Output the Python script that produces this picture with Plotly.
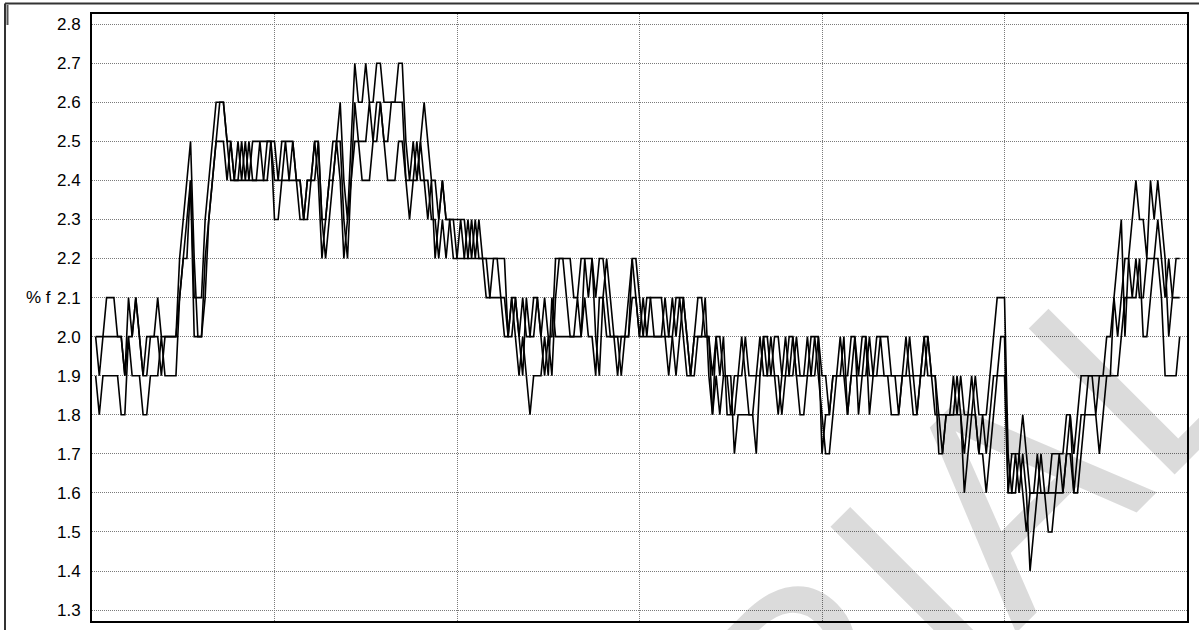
import plotly.graph_objects as go

# Three channels sampled at 298 steps, values in % f
series_a = [
    2.0,1.9,2.0,2.1,2.1,2.1,2.0,2.0,1.9,2.1, 2.0,2.1,2.0,1.9,2.0,2.0,2.0,2.1,2.0,2.0,
    2.0,2.0,2.0,2.2,2.3,2.4,2.5,2.2,2.0,2.0, 2.1,2.3,2.4,2.5,2.6,2.6,2.5,2.5,2.4,2.5,
    2.4,2.5,2.4,2.5,2.5,2.5,2.5,2.5,2.5,2.5,
    2.4,2.5,2.5,2.5,2.5,2.4,2.4,2.3,2.4,2.4, 2.5,2.5,2.3,2.3,2.4,2.5,2.5,2.6,2.4,2.3,
    2.5,2.7,2.6,2.6,2.7,2.6,2.6,2.7,2.7,2.6, 2.6,2.6,2.6,2.7,2.7,2.5,2.4,2.5,2.4,2.5,
    2.6,2.5,2.4,2.4,2.3,2.4,2.3,2.3,2.2,2.2,
    2.3,2.2,2.2,2.3,2.2,2.3,2.2,2.2,2.2,2.2, 2.2,2.2,2.2,2.0,2.1,2.1,2.0,2.1,2.0,2.0,
    2.1,2.1,2.0,2.1,2.0,2.0,2.2,2.2,2.2,2.2, 2.2,2.1,2.1,2.2,2.2,2.2,2.2,2.1,2.2,2.2,
    2.1,2.0,2.0,2.0,2.0,2.0,2.1,2.2,2.1,2.0,
    2.1,2.0,2.1,2.1,2.1,2.1,2.0,1.9,2.0,2.1, 2.1,2.1,2.0,1.9,2.0,2.1,2.1,2.0,2.0,1.9,
    2.0,2.0,1.9,1.9,1.8,1.9,1.9,1.9,2.0,1.9, 1.9,1.9,1.9,2.0,2.0,1.9,2.0,2.0,1.9,1.9,
    2.0,2.0,1.9,1.9,1.9,1.9,2.0,2.0,2.0,1.9,
    1.9,1.8,1.9,1.9,2.0,1.9,1.9,2.0,2.0,1.9, 2.0,2.0,1.9,1.9,2.0,2.0,2.0,2.0,1.9,1.9,
    1.9,1.9,1.9,2.0,1.9,1.9,1.9,2.0,2.0,1.9, 1.9,1.8,1.8,1.8,1.8,1.9,1.8,1.9,1.8,1.8,
    1.8,1.9,1.8,1.8,1.8,1.9,2.0,2.1,2.1,2.1,
    1.7,1.6,1.6,1.7,1.8,1.7,1.6,1.6,1.6,1.7, 1.6,1.6,1.7,1.7,1.7,1.7,1.8,1.8,1.7,1.8,
    1.9,1.9,1.9,1.9,1.9,1.9,1.9,2.0,2.0,2.1, 2.2,2.3,2.0,2.2,2.3,2.4,2.3,2.3,2.2,2.4,
    2.3,2.4,2.3,2.2,2.0,2.1,2.2,2.2,
]
series_b = [
    1.9,1.8,1.9,1.9,1.9,1.9,1.9,1.8,1.8,2.0, 1.9,1.9,1.9,1.8,1.8,1.9,1.9,1.9,2.0,1.9,
    1.9,1.9,1.9,2.1,2.2,2.2,2.4,2.1,2.1,2.1, 2.3,2.4,2.5,2.6,2.6,2.6,2.5,2.4,2.4,2.4,
    2.4,2.4,2.4,2.4,2.4,2.4,2.4,2.5,2.5,2.3,
    2.3,2.4,2.5,2.4,2.4,2.4,2.3,2.3,2.4,2.4, 2.5,2.4,2.2,2.3,2.4,2.4,2.5,2.5,2.3,2.2,
    2.4,2.6,2.5,2.5,2.5,2.6,2.5,2.6,2.6,2.5, 2.5,2.6,2.6,2.6,2.6,2.4,2.3,2.4,2.5,2.4,
    2.4,2.3,2.4,2.2,2.3,2.4,2.3,2.3,2.3,2.2,
    2.2,2.2,2.3,2.2,2.3,2.2,2.2,2.2,2.1,2.1, 2.1,2.1,2.0,2.0,2.1,2.0,1.9,2.0,1.9,1.8,
    1.9,1.9,1.9,2.0,1.9,2.1,2.0,2.0,2.0,2.0, 2.0,2.0,2.0,2.0,2.1,2.0,2.0,1.9,2.1,2.1,
    2.0,2.0,2.0,1.9,2.0,2.0,2.0,2.1,2.1,2.0,
    2.0,2.0,2.0,2.0,2.0,2.0,2.0,2.0,2.1,2.0, 2.1,2.0,1.9,1.9,1.9,2.0,2.0,2.0,2.0,1.8,
    1.9,1.8,1.9,1.9,1.9,1.7,1.8,1.8,1.8,1.8, 1.8,1.7,1.9,2.0,1.9,1.9,1.9,1.9,1.8,1.9,
    1.9,2.0,1.9,1.8,1.8,1.9,1.9,2.0,1.9,1.8,
    1.7,1.7,1.8,1.9,1.9,1.9,1.8,1.9,2.0,1.8, 1.9,2.0,1.8,1.9,1.9,2.0,1.9,1.9,1.8,1.8,
    1.8,1.9,1.9,1.9,1.8,1.8,1.9,1.9,2.0,1.9, 1.9,1.7,1.7,1.8,1.8,1.8,1.8,1.8,1.6,1.7,
    1.8,1.8,1.7,1.7,1.6,1.7,1.8,1.9,2.0,2.0,
    1.6,1.6,1.7,1.6,1.7,1.6,1.4,1.5,1.6,1.6, 1.6,1.5,1.5,1.6,1.6,1.6,1.7,1.7,1.6,1.6,
    1.7,1.8,1.8,1.8,1.8,1.7,1.8,1.9,1.9,1.9, 1.9,2.0,2.1,2.1,2.1,2.1,2.2,2.0,2.0,2.1,
    2.2,2.2,2.1,1.9,1.9,1.9,1.9,2.0,
]
series_c = [
    2.0,2.0,2.0,2.0,2.0,2.0,2.0,2.0,1.9,2.0, 2.0,2.1,2.0,1.9,1.9,2.0,2.0,2.0,1.9,2.0,
    2.0,2.0,2.0,2.1,2.2,2.3,2.4,2.0,2.0,2.0, 2.2,2.3,2.4,2.5,2.5,2.5,2.4,2.5,2.4,2.4,
    2.5,2.4,2.5,2.4,2.4,2.5,2.4,2.4,2.5,2.4,
    2.4,2.4,2.4,2.4,2.5,2.4,2.4,2.3,2.3,2.4, 2.4,2.5,2.3,2.2,2.3,2.4,2.5,2.4,2.2,2.3,
    2.4,2.5,2.5,2.4,2.4,2.4,2.5,2.5,2.6,2.5, 2.4,2.4,2.4,2.5,2.5,2.4,2.4,2.4,2.4,2.5,
    2.4,2.4,2.3,2.3,2.2,2.3,2.2,2.3,2.3,2.3,
    2.3,2.3,2.2,2.2,2.2,2.2,2.2,2.1,2.1,2.2, 2.2,2.1,2.1,2.0,2.0,2.1,2.0,1.9,2.1,2.0,
    2.0,2.1,2.0,1.9,2.0,1.9,2.1,2.2,2.2,2.1, 2.0,2.0,2.1,2.0,2.2,2.1,2.2,2.0,1.9,2.1,
    2.2,2.1,2.0,2.0,1.9,2.0,2.0,2.2,2.2,2.1,
    2.0,2.1,2.1,2.0,2.0,2.0,2.1,2.0,2.0,1.9, 2.0,2.1,2.0,1.9,2.0,2.0,2.0,2.1,1.9,1.8,
    2.0,1.9,2.0,1.8,1.8,1.8,1.9,2.0,1.9,1.8, 1.8,1.9,2.0,1.9,1.9,2.0,1.9,1.8,1.9,2.0,
    1.9,1.9,2.0,1.9,1.9,2.0,1.9,1.9,2.0,1.7,
    1.8,1.8,1.9,1.9,1.9,2.0,1.8,1.9,1.9,1.9, 1.9,1.9,2.0,1.9,1.9,1.9,1.9,1.9,1.9,1.9,
    1.8,1.9,2.0,1.9,1.9,1.8,1.9,2.0,1.9,1.9, 1.8,1.8,1.7,1.8,1.8,1.8,1.9,1.8,1.7,1.8,
    1.9,1.8,1.7,1.8,1.7,1.8,1.9,1.9,1.9,1.9,
    1.6,1.7,1.7,1.7,1.6,1.5,1.6,1.6,1.7,1.6, 1.6,1.6,1.6,1.6,1.7,1.6,1.7,1.8,1.6,1.7,
    1.8,1.8,1.9,1.9,1.8,1.9,1.9,1.9,1.9,2.1, 2.0,2.1,2.2,2.2,2.1,2.2,2.1,2.1,2.2,2.2,
    2.2,2.3,2.2,2.1,2.2,2.1,2.1,2.1,
]

y_ticks = [1.3, 1.4, 1.5, 1.6, 1.7, 1.8, 1.9, 2.0, 2.1, 2.2, 2.3, 2.4, 2.5, 2.6, 2.7, 2.8]
y_label = "% f"
watermark = "TRIAL"

W, H = 1199, 630
ML, MR, MT, MB = 92, 12, 14, 9
PW, PH = W - ML - MR, H - MT - MB


def px(x):
    return (x - ML) / PW


def py(y):
    return 1 - (y - MT) / PH


fig = go.Figure()
for s in (series_a, series_b, series_c):
    fig.add_trace(go.Scatter(
        x=list(range(1, len(s) + 1)), y=s, mode="lines",
        line=dict(color="black", width=1.6), hoverinfo="skip", showlegend=False,
    ))

font = dict(family="Liberation Sans, Arial, sans-serif", size=17, color="black")
grid = dict(showgrid=True, gridcolor="#7a7a7a", gridwidth=1, griddash="1px,1px",
            showline=True, linecolor="black", linewidth=2, mirror=True, zeroline=False)

fig.update_layout(
    width=W, height=H,
    margin=dict(l=ML, r=MR, t=MT, b=MB, pad=0),
    paper_bgcolor="white", plot_bgcolor="white",
    font=font,
    xaxis=dict(range=[0, 300], dtick=50, tick0=0, showticklabels=False, ticks="", **grid),
    yaxis=dict(
        range=[1.272, 2.826], tickvals=y_ticks, ticktext=[f"{v:.1f}" for v in y_ticks],
        ticks="", ticklabelstandoff=6, tickfont=font, **grid,
    ),
    annotations=[
        dict(text=y_label, x=px(24), y=2.1, xref="paper", yref="y",
             xanchor="left", yanchor="middle", showarrow=False, font=font),
        # faint diagonal watermark running off the lower-right corner
        dict(text=watermark, x=px(901), y=py(601), xref="paper", yref="paper",
             xanchor="center", yanchor="middle", showarrow=False, textangle=-45,
             font=dict(family="Liberation Sans, Arial, sans-serif", size=300,
                       color="rgba(0,0,0,0.14)")),
    ],
    shapes=[
        # outer frame around the whole chart (top and left edges visible)
        dict(type="line", xref="paper", yref="paper", x0=px(5), x1=px(1205),
             y0=py(3.5), y1=py(3.5), line=dict(color="#333", width=2)),
        dict(type="line", xref="paper", yref="paper", x0=px(5), x1=px(5),
             y0=py(3.5), y1=py(640), line=dict(color="#333", width=2)),
        dict(type="line", xref="paper", yref="paper", x0=px(7.5), x1=px(7.5),
             y0=py(5), y1=py(25), line=dict(color="#555", width=2)),
    ],
)

fig.write_html("out.html")
